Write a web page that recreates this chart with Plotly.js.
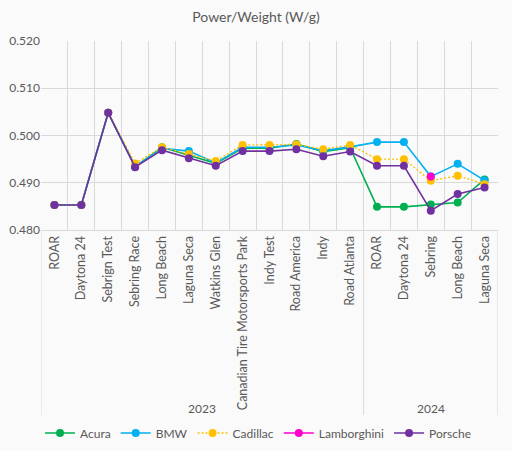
<!DOCTYPE html>
<html>
<head>
<meta charset="utf-8">
<script src="https://cdn.plot.ly/plotly-3.0.1.min.js"></script>
<style>html,body{margin:0;padding:0;background:#fafafa;}#chart{width:512px;height:451px;}</style>
</head>
<body>
<div id="chart"></div>
<script>
const years = ["2023","2023","2023","2023","2023","2023","2023","2023","2023","2023","2023","2023","2024","2024","2024","2024","2024"];
const events = ["ROAR","Daytona 24","Sebrign Test","Sebring Race","Long Beach","Laguna Seca","Watkins Glen","Canadian Tire Motorsports Park","Indy Test","Road America","Indy","Road Atlanta","ROAR","Daytona 24","Sebring","Long Beach","Laguna Seca"];
const yearGroups = ["2023","2024"];

const acura       = [0.4853,0.4853,0.5048,0.4934,0.4975,0.4958,0.4941,0.4973,0.4973,0.4982,0.4966,0.4974,0.4849,0.4849,0.4854,0.4858,0.4907];
const bmw         = [0.4853,0.4853,0.5048,0.4934,0.4973,0.4967,0.4942,0.4975,0.4975,0.4980,0.4968,0.4976,0.4986,0.4986,0.4913,0.4940,0.4905];
const cadillac    = [0.4853,0.4853,0.5048,0.4941,0.4975,0.4961,0.4946,0.4980,0.4980,0.4981,0.4971,0.4980,0.4950,0.4950,0.4904,0.4915,0.4897];
const lamborghini = [null,null,null,null,null,null,null,null,null,null,null,null,null,null,0.4913,null,null];
const porsche     = [0.4853,0.4853,0.5048,0.4933,0.4969,0.4952,0.4936,0.4967,0.4967,0.4971,0.4956,0.4966,0.4936,0.4936,0.4841,0.4876,0.4890];

const seriesNames = ["Acura","BMW","Cadillac","Lamborghini","Porsche"];
const seriesData = [acura,bmw,cadillac,lamborghini,porsche];
const colors = ["#00B050","#00B0F0","#FFC000","#FF00CC","#7030A0"];
const dashes = ["solid","solid","2px,2px","solid","solid"];
const widths = [1.6,1.6,1.4,1.6,1.6];

// unique category keys (year + event) so repeated event names stay separate
const keys = events.map((e,i)=>years[i]+" · "+e);

const traces = seriesNames.map((n,i)=>({
  type:"scatter", mode:"lines+markers", name:n,
  x:keys, y:seriesData[i],
  line:{color:colors[i], width:widths[i], dash:dashes[i]},
  marker:{color:colors[i], size:8},
  connectgaps:false
}));

// group boundaries from the years array
const groupStarts = [];
years.forEach((y,i)=>{ if(i===0 || years[i-1]!==y) groupStarts.push(i); });
const bounds = groupStarts.map(i=>i-0.5).concat([years.length-0.5]);

const gridCol = "#d9d9d9";
const shapes = bounds.map(b=>({type:"line", xref:"x", yref:"paper", x0:b, x1:b, y0:0, y1:-0.979, line:{color:gridCol, width:1}}));
const annotations = yearGroups.map((g,k)=>{
  const idx = years.map((y,i)=>y===g?i:-1).filter(i=>i>=0);
  const mid = (idx[0]+idx[idx.length-1])/2;
  return {text:g, xref:"x", yref:"paper", x:mid, y:-0.942, showarrow:false, xanchor:"center", yanchor:"middle",
          font:{size:12, color:"#595959"}};
});

const font = "Lato, 'Open Sans', sans-serif";
const layout = {
  width:512, height:451,
  paper_bgcolor:"#fafafa", plot_bgcolor:"#fafafa",
  margin:{l:41, r:14, t:41, b:221},
  font:{family:font, color:"#595959", size:12},
  title:{text:"Power/Weight (W/g)", font:{family:font, size:14, color:"#595959"}, x:0.5, xanchor:"center", y:1-17/451, yanchor:"middle", yref:"container"},
  xaxis:{type:"category", tickmode:"array", tickvals:keys, ticktext:events, tickangle:-90,
         showgrid:true, gridcolor:gridCol, gridwidth:1, tickson:"boundaries",
         showline:true, linecolor:gridCol, ticks:"", range:[-0.5, keys.length-0.5],
         tickfont:{size:12.5, color:"#595959"}},
  yaxis:{range:[0.480,0.520], dtick:0.01, tick0:0.48, tickformat:".3f", showgrid:true, gridcolor:gridCol,
         zeroline:false, showline:false, ticks:"", tickfont:{size:12, color:"#595959"}},
  shapes:shapes,
  annotations:annotations,
  legend:{orientation:"h", x:0.476, xanchor:"center", y:1-433/451, yanchor:"middle", yref:"container",
          font:{size:12, color:"#595959"}, bgcolor:"rgba(0,0,0,0)"},
  showlegend:true
};
Plotly.newPlot("chart", traces, layout, {displayModeBar:false, staticPlot:true});
</script>
</body>
</html>
